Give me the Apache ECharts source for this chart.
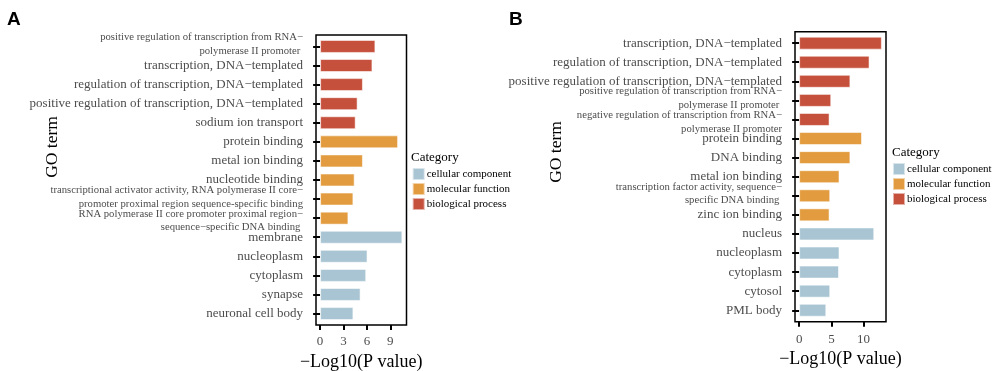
<!DOCTYPE html>
<html>
<head>
<meta charset="utf-8">
<script src="https://cdn.jsdelivr.net/npm/echarts@6/dist/echarts.min.js"></script>
<style>html,body{margin:0;padding:0;background:#fff}#c{width:992px;height:371px}</style>
</head>
<body>
<div id="c"></div>
<script>
// ---- data ----
const categoriesA = [
  'positive regulation of transcription from RNA−\npolymerase II promoter ',
  'transcription, DNA−templated',
  'regulation of transcription, DNA−templated',
  'positive regulation of transcription, DNA−templated',
  'sodium ion transport',
  'protein binding',
  'metal ion binding',
  'nucleotide binding',
  'transcriptional activator activity, RNA polymerase II core−\npromoter proximal region sequence-specific binding',
  'RNA polymerase II core promoter proximal region−\nsequence−specific DNA binding ',
  'membrane',
  'nucleoplasm',
  'cytoplasm',
  'synapse',
  'neuronal cell body'
];
const valuesA = [7.09, 6.71, 5.49, 4.81, 4.56, 10.0, 5.49, 4.43, 4.27, 3.63, 10.55, 6.08, 5.91, 5.19, 4.27];
const groupsA = ['biological process','biological process','biological process','biological process','biological process',
  'molecular function','molecular function','molecular function','molecular function','molecular function',
  'cellular component','cellular component','cellular component','cellular component','cellular component'];

const categoriesB = [
  'transcription, DNA−templated',
  'regulation of transcription, DNA−templated',
  'positive regulation of transcription, DNA−templated',
  'positive regulation of transcription from RNA−\npolymerase II promoter ',
  'negative regulation of transcription from RNA−\npolymerase II promoter',
  'protein binding',
  'DNA binding',
  'metal ion binding',
  'transcription factor activity, sequence−\nspecific DNA binding ',
  'zinc ion binding',
  'nucleus',
  'nucleoplasm',
  'cytoplasm',
  'cytosol',
  'PML body'
];
const valuesB = [12.83, 10.92, 7.95, 4.98, 4.72, 9.75, 7.95, 6.26, 4.82, 4.72, 11.65, 6.26, 6.18, 4.82, 4.21];
const groupsB = groupsA.slice();

const legendNames = ['cellular component', 'molecular function', 'biological process'];
const ticksA = [0, 3, 6, 9];
const ticksB = [0, 5, 10];

// ---- styling ----
const colors = {'cellular component': '#A9C5D3', 'molecular function': '#E29B3E', 'biological process': '#C5503C'};
const SERIF = 'Liberation Serif, Times New Roman, serif';
const GREY = '#4d4d4d';

function seriesFor(values, groups, xi, yi) {
  return legendNames.map(function (name) {
    return {
      type: 'bar', name: name, xAxisIndex: xi, yAxisIndex: yi,
      data: values.map(function (v, i) { return groups[i] === name ? v : '-'; }),
      barWidth: '68%', barGap: '-100%',
      itemStyle: {color: colors[name], borderColor: 'rgba(255,255,255,0.55)', borderWidth: 1},
      emphasis: {disabled: true}, silent: true
    };
  });
}

function makeFmt(cats) {
  return function (v, idx) {
    if (v.indexOf('\n') < 0) return '{m|' + v + '}';
    const parts = v.split('\n');
    const prevTwo = idx > 0 && cats[idx - 1].indexOf('\n') >= 0;
    if (prevTwo) return '{d| }\n{s|' + parts[0] + '}\n{s|' + parts[1] + '}';
    return '{s|' + parts[0] + '}\n{s|' + parts[1] + '}\n{u| }';
  };
}

function frameAxes(minV, maxV, ticks, gi, labelMargin, nameGap) {
  return {
    x: {
      type: 'value', gridIndex: gi, min: minV, max: maxV,
      axisLine: {show: false}, splitLine: {show: false},
      axisTick: {show: true, customValues: ticks, length: 5, lineStyle: {color: '#000', width: 2}},
      axisLabel: {customValues: ticks, color: GREY, fontSize: 13, fontFamily: SERIF, margin: labelMargin},
      name: '−Log10(P value)', nameLocation: 'middle', nameGap: nameGap,
      nameTextStyle: {color: '#000', fontSize: 18, fontFamily: SERIF}
    },
    y: {type: 'value', gridIndex: gi, min: 0, max: 1, show: false}
  };
}

function dataAxes(minV, maxV, cats, gi) {
  const sz = 10.7, lh = 13.5;
  return {
    x: {type: 'value', gridIndex: gi, min: minV, max: maxV, show: false},
    y: {
      type: 'category', gridIndex: gi, data: cats, inverse: true,
      axisLine: {show: false},
      axisTick: {show: true, alignWithLabel: true, length: 7, lineStyle: {color: '#000', width: 2}},
      axisLabel: {
        interval: 0, margin: 13, color: GREY, fontFamily: SERIF, fontSize: 13, formatter: makeFmt(cats),
        rich: {
          m: {fontSize: 13, color: GREY, fontFamily: SERIF},
          s: {fontSize: sz, lineHeight: lh, color: GREY, fontFamily: SERIF},
          u: {fontSize: 1, lineHeight: 4},
          d: {fontSize: 1, lineHeight: 5}
        }
      }
    }
  };
}

const maxA = Math.max.apply(null, valuesA), maxB = Math.max.apply(null, valuesB);
const minAx = -0.05 * maxA, maxAx = 1.05 * maxA;
const minBx = -0.05 * maxB, maxBx = 1.05 * maxB;

const fA = frameAxes(minAx, maxAx, ticksA, 0, 10, 25), dA = dataAxes(minAx, maxAx, categoriesA, 1);
const fB = frameAxes(minBx, maxBx, ticksB, 2, 11, 29), dB = dataAxes(minBx, maxBx, categoriesB, 3);

const gridBase = {containLabel: false, outerBoundsMode: 'none'};
const chart = echarts.init(document.getElementById('c'), null, {renderer: 'canvas'});
chart.setOption({
  animation: false,
  backgroundColor: '#fff',
  grid: [
    Object.assign({left: 316, top: 35, width: 90.5, height: 290, show: true, borderColor: '#000', borderWidth: 1.5}, gridBase),
    Object.assign({left: 316, top: 36.9, width: 90.5, height: 286.2}, gridBase),
    Object.assign({left: 795, top: 31.7, width: 91, height: 290, show: true, borderColor: '#000', borderWidth: 1.5}, gridBase),
    Object.assign({left: 795, top: 33.6, width: 91, height: 286.2}, gridBase)
  ],
  xAxis: [fA.x, dA.x, fB.x, dB.x],
  yAxis: [fA.y, dA.y, fB.y, dB.y],
  legend: [
    {left: 411.7, top: 167, orient: 'vertical', padding: 0, itemWidth: 12, itemHeight: 12, itemGap: 1,
     icon: 'rect', data: legendNames, selectedMode: false,
     textStyle: {fontSize: 11, fontFamily: SERIF, color: '#000', padding: [0, 0, 0, -3]}},
    {left: 892, top: 162, orient: 'vertical', padding: 0, itemWidth: 12, itemHeight: 12, itemGap: 1,
     icon: 'rect', data: legendNames, selectedMode: false,
     textStyle: {fontSize: 11, fontFamily: SERIF, color: '#000', padding: [0, 0, 0, -3]}}
  ],
  graphic: [
    {type: 'text', left: 7, top: 10, style: {text: 'A', font: 'bold 19px Liberation Sans, Arial, sans-serif', fill: '#000'}},
    {type: 'text', left: 509, top: 10, style: {text: 'B', font: 'bold 19px Liberation Sans, Arial, sans-serif', fill: '#000'}},
    {type: 'text', x: 52, y: 147, rotation: Math.PI / 2,
     style: {text: 'GO term', font: '17.5px ' + SERIF, fill: '#000', align: 'center', verticalAlign: 'middle'}},
    {type: 'text', x: 556, y: 152, rotation: Math.PI / 2,
     style: {text: 'GO term', font: '17.5px ' + SERIF, fill: '#000', align: 'center', verticalAlign: 'middle'}},
    {type: 'text', x: 411, y: 158, style: {text: 'Category', font: '13px ' + SERIF, fill: '#000', align: 'left', verticalAlign: 'middle'}},
    {type: 'text', x: 892, y: 153, style: {text: 'Category', font: '13px ' + SERIF, fill: '#000', align: 'left', verticalAlign: 'middle'}}
  ],
  series: [].concat(seriesFor(valuesA, groupsA, 1, 1), seriesFor(valuesB, groupsB, 3, 3))
});
</script>
</body>
</html>
